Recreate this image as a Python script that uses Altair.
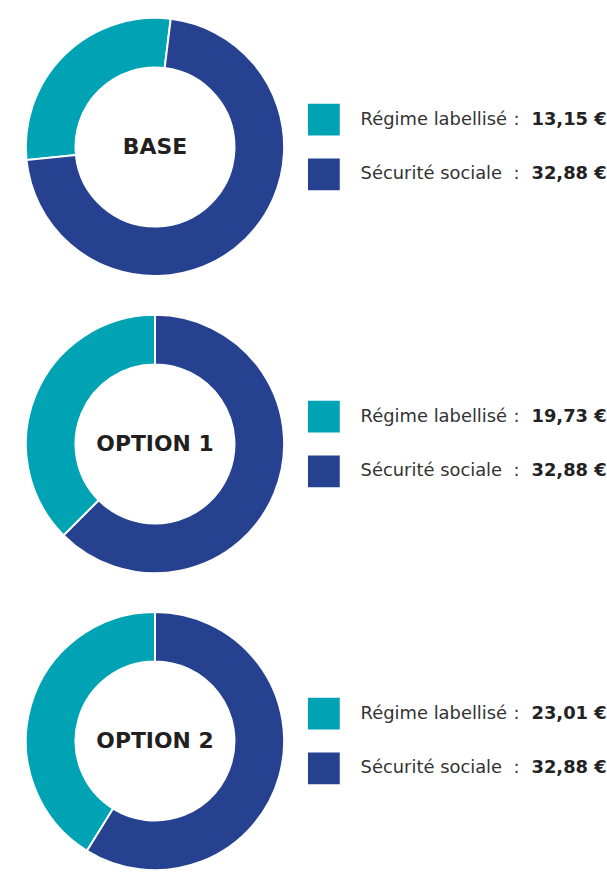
import math
import altair as alt
import pandas as pd

# ---- data ----
plans = ["BASE", "OPTION 1", "OPTION 2"]
categories = ["Régime labellisé", "Sécurité sociale"]
regime_values = [13.15, 19.73, 23.01]
secu_values = [32.88, 32.88, 32.88]
start_angles_deg = [7, 0, 0]  # rotation of the first slice in each donut

colors = ["#00A3B4", "#26418F"]

ROW_H = 290
ROW_W = 607
CX = 156
FONT = "DejaVu Sans"


def fmt(v):
    return f"{v:.2f}".replace(".", ",") + " €"


def make_row(i):
    df = pd.DataFrame({
        "category": categories,
        "value": [regime_values[i], secu_values[i]],
        "label": [fmt(regime_values[i]), fmt(secu_values[i])],
        "plan": [plans[i]] * 2,
    })
    off = math.radians(start_angles_deg[i])
    base = alt.Chart(df)
    ycenter = ROW_H / 2
    yscale = alt.Scale(domain=categories, range=[ycenter - 27.5, ycenter + 27.5], padding=0)
    cscale = alt.Scale(domain=categories, range=colors)

    arc = base.mark_arc(innerRadius=80, outerRadius=130, stroke="white", strokeWidth=2).encode(
        theta=alt.Theta("value:Q", stack=True, scale=alt.Scale(range=[off, off + 2 * math.pi])),
        color=alt.Color("category:N", scale=cscale, legend=None),
        order=alt.Order("category:N", sort="descending"),
        x=alt.value(CX),
        y=alt.value(ycenter),
    )
    center = alt.Chart(pd.DataFrame({"plan": [plans[i]]})).mark_text(
        font=FONT, fontSize=22, fontWeight="bold", color="#231F20", baseline="middle", align="center"
    ).encode(text="plan:N", x=alt.value(CX), y=alt.value(ycenter))

    squares = base.mark_square(size=1024, opacity=1, shape="square").encode(
        y=alt.Y("category:N", scale=yscale, axis=None),
        x=alt.value(326),
        color=alt.Color("category:N", scale=cscale, legend=None),
    )
    names = base.mark_text(font=FONT, fontSize=18, color="#333333", align="left", baseline="middle").encode(
        y=alt.Y("category:N", scale=yscale, axis=None),
        x=alt.value(363),
        text="category:N",
    )
    colon = base.mark_text(font=FONT, fontSize=18, color="#333333", align="center", baseline="middle", text=":").encode(
        y=alt.Y("category:N", scale=yscale, axis=None),
        x=alt.value(520),
    )
    vals = base.mark_text(font=FONT, fontSize=18, fontWeight="bold", color="#222222", align="left", baseline="middle").encode(
        y=alt.Y("category:N", scale=yscale, axis=None),
        x=alt.value(535),
        text="label:N",
    )
    return alt.layer(arc, center, squares, names, colon, vals).properties(width=ROW_W, height=ROW_H)


chart = alt.vconcat(*[make_row(i) for i in range(3)], spacing=9).properties(
    padding=0, background="white"
).configure_view(stroke=None)

chart.save("out.html", embed_options={"renderer": "svg", "actions": False})
